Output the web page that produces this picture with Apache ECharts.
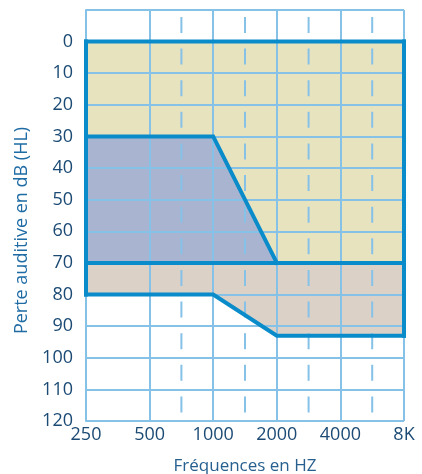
<!DOCTYPE html>
<html>
<head>
<meta charset="utf-8">
<script src="https://cdn.jsdelivr.net/npm/echarts@6/dist/echarts.min.js"></script>
<style>html,body{margin:0;padding:0;background:#fff;}#c{width:422px;height:474px;}</style>
</head>
<body>
<div id="c"></div>
<script>
// Data
var categories = ['250', '500', '1000', '2000', '4000', '8K'];
var yTicks = [0, 10, 20, 30, 40, 50, 60, 70, 80, 90, 100, 110, 120];
var dashedPositions = [1.5, 2.5, 3.5, 4.5];
// zone boundaries per category (dB HL)
var zoneTop = [0, 0, 0, 0, 0, 0];
var zoneMid = [70, 70, 70, 70, 70, 70];
var blueTop = [30, 30, 30, 70];          // 250..2000
var tanBottom = [80, 80, 80, 93, 93, 93];

var gridCol = '#86c1e8';
var thickCol = '#0a8bca';
var font = 'Open Sans';

function poly(upper, lower) {
  var pts = [];
  for (var i = 0; i < upper.length; i++) pts.push([i, upper[i]]);
  for (var j = lower.length - 1; j >= 0; j--) pts.push([j, lower[j]]);
  return pts;
}
var zones = [
  { pts: poly(zoneTop, zoneMid), color: '#e8e3bf' },
  { pts: poly(zoneMid, tanBottom), color: '#dcd1c7' },
  { pts: poly(blueTop, zoneMid.slice(0, blueTop.length)), color: '#a9b5d0' }
];
var thickLines = [
  zoneTop.map(function (v, i) { return [i, v]; }),
  zoneMid.map(function (v, i) { return [i, v]; }),
  blueTop.map(function (v, i) { return [i, v]; }),
  tanBottom.map(function (v, i) { return [i, v]; }),
  [[0, zoneTop[0]], [0, tanBottom[0]]],
  [[5, zoneTop[5]], [5, tanBottom[5]]]
];

var chart = echarts.init(document.getElementById('c'));
chart.setOption({
  animation: false,
  grid: { left: 86, right: 18, top: 10, bottom: 53, containLabel: false, outerBoundsMode: 'none' },
  xAxis: {
    type: 'value', min: 0, max: 5, interval: 1,
    name: 'Fréquences en HZ', nameLocation: 'middle', nameGap: 37,
    nameTextStyle: { color: '#27608f', fontSize: 17, fontFamily: font },
    axisLine: { show: true, lineStyle: { color: gridCol, width: 2 } },
    axisTick: { show: false },
    axisLabel: {
      margin: 5, color: '#1b4a74', fontSize: 18, fontFamily: font,
      formatter: function (v) { return categories[Math.round(v)]; }
    },
    splitLine: { show: true, lineStyle: { color: gridCol, width: 2 } }
  },
  yAxis: {
    type: 'value', inverse: true, min: -10, max: 120, interval: 10,
    name: 'Perte auditive en dB (HL)', nameLocation: 'middle', nameGap: 55,
    nameTextStyle: { color: '#1f6ca5', fontSize: 18, fontFamily: font, padding: [0, 30, 0, 0] },
    axisLine: { show: true, lineStyle: { color: gridCol, width: 2 } },
    axisTick: { show: false },
    axisLabel: {
      margin: 13, color: '#1b4a74', fontSize: 18, fontFamily: font,
      formatter: function (v) { return yTicks.indexOf(v) >= 0 ? String(v) : ''; }
    },
    splitLine: { show: true, lineStyle: { color: gridCol, width: 2 } }
  },
  series: [
    {
      type: 'custom', z: -1, silent: true,
      data: zones.map(function (z, i) { return [i]; }),
      renderItem: function (params, api) {
        var z = zones[params.dataIndex];
        return {
          type: 'polygon',
          shape: { points: z.pts.map(function (p) { return api.coord(p); }) },
          style: { fill: z.color }
        };
      }
    },
    {
      type: 'custom', z: 3, silent: true,
      data: dashedPositions.map(function (v) { return [v]; }),
      renderItem: function (params, api) {
        var x = api.value(0);
        var a = api.coord([x, -10]), b = api.coord([x, 120]);
        var cell = (b[1] - a[1]) / 13;
        return {
          type: 'line',
          shape: { x1: a[0], y1: a[1], x2: b[0], y2: b[1] },
          style: { stroke: gridCol, lineWidth: 2, lineDash: [16, cell - 16], lineDashOffset: cell - 7 }
        };
      }
    },
    {
      type: 'custom', z: 5, silent: true,
      data: thickLines.map(function (l, i) { return [i]; }),
      renderItem: function (params, api) {
        var l = thickLines[params.dataIndex];
        return {
          type: 'polyline',
          shape: { points: l.map(function (p) { return api.coord(p); }) },
          style: { stroke: thickCol, lineWidth: 4, fill: null, lineJoin: 'miter', lineCap: 'square' }
        };
      }
    }
  ]
});
</script>
</body>
</html>
